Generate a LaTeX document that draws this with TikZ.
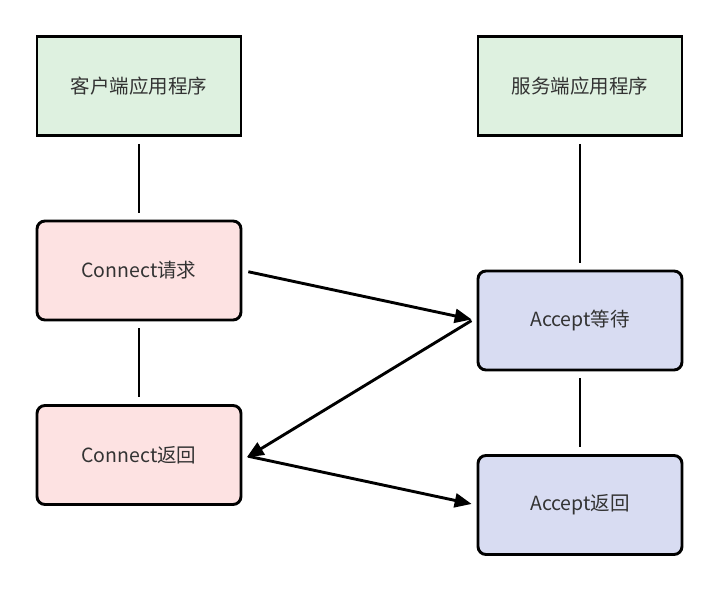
\documentclass[tikz,border=0pt]{standalone}
\usepackage{fontspec}
\setmainfont{Noto Sans CJK SC}
\usetikzlibrary{arrows.meta}
\definecolor{appgreen}{HTML}{DEF1E0}
\definecolor{clientpink}{HTML}{FDE2E2}
\definecolor{serverblue}{HTML}{D8DCF2}
\definecolor{txt}{HTML}{333333}
\tikzset{
  base/.style={draw=black, line width=2.9pt, minimum width=204pt, minimum height=99pt, inner sep=0pt, text=txt, font=\fontsize{19.5pt}{23pt}\selectfont},
  appbox/.style={base, fill=appgreen},
  cbox/.style={base, fill=clientpink, rounded corners=8pt},
  sbox/.style={base, fill=serverblue, rounded corners=8pt},
  link/.style={line width=2.9pt, shorten >=7pt, shorten <=7pt},
  flow/.style={line width=2.9pt, -{Triangle[length=17pt,width=14pt]}, shorten >=5pt, shorten <=6pt},
}
\begin{document}
\begin{tikzpicture}[x=1pt,y=-1pt]
\useasboundingbox (0,0) rectangle (720,593);
\fill[white] (0,0) rectangle (720,593);
\node[appbox] (capp) at (139,86) {客户端应用程序};
\node[appbox] (sapp) at (580,86) {服务端应用程序};
\node[cbox] (creq) at (139,270.5) {Connect请求};
\node[cbox] (cret) at (139,455) {Connect返回};
\node[sbox] (swait) at (580,320.5) {Accept等待};
\node[sbox] (sret) at (580,505) {Accept返回};
\draw[link] (capp) -- (creq);
\draw[link] (creq) -- (cret);
\draw[link] (sapp) -- (swait);
\draw[link] (swait) -- (sret);
\draw[flow] (creq.east) -- (swait.west);
\draw[flow] ([yshift=3pt]swait.west) -- ([yshift=-5pt]cret.east);
\draw[flow] (cret.east) -- (sret.west);
\end{tikzpicture}
\end{document}
